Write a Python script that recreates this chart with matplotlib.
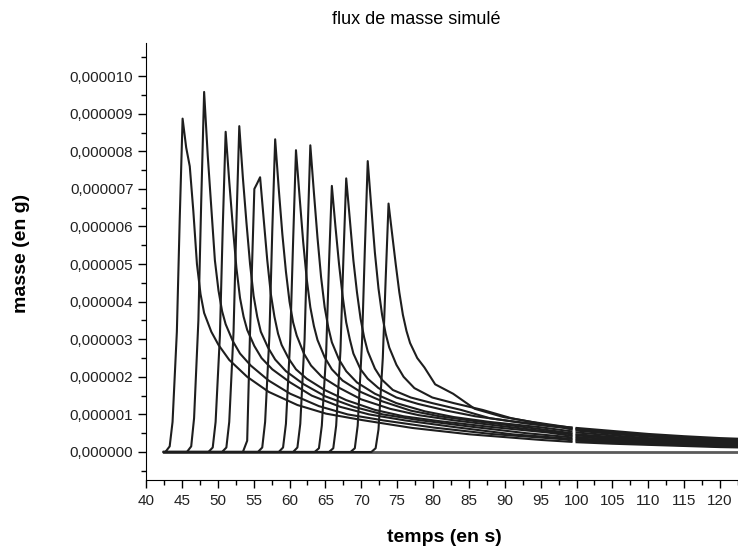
import numpy as np
import matplotlib
matplotlib.use("Agg")
import matplotlib.pyplot as plt
from matplotlib.ticker import MultipleLocator, FuncFormatter

plt.rcParams['font.family'] = ['Liberation Sans', 'DejaVu Sans']

# temps du pic (s) pour chaque simulation
peak_t = [45.1, 48.1, 51.1, 53.0, 55.9, 58.0, 60.9, 62.9, 65.9, 67.9, 70.9, 73.8]

# montee : decalages par rapport au pic et valeurs (1e-6 g)
rise_dt = [-2.4, -1.8, -1.4, -0.8, -0.4, 0.0]
rise_vals = [
    [0, 0.15, 0.8, 3.2, 6.2, 8.87],
    [0, 0.15, 0.9, 3.5, 6.7, 9.58],
    [0, 0.12, 0.8, 3.1, 6.0, 8.52],
    [0, 0.12, 0.8, 3.2, 6.1, 8.67],
    [0, 0.3, 3.2, 7.0, 7.15, 7.31],
    [0, 0.12, 0.8, 3.1, 5.9, 8.32],
    [0, 0.12, 0.75, 3.0, 5.6, 8.03],
    [0, 0.12, 0.75, 3.0, 5.7, 8.16],
    [0, 0.1, 0.7, 2.6, 5.0, 7.08],
    [0, 0.1, 0.7, 2.7, 5.1, 7.28],
    [0, 0.1, 0.7, 2.9, 5.4, 7.74],
    [0, 0.1, 0.6, 2.5, 4.6, 6.61],
]

# descente : decalages apres le pic et valeurs (1e-6 g)
dec_dt = [0.5, 1.0, 1.5, 2.0, 2.5, 3.0, 4.0, 5.0, 6.5, 9.0, 12.0, 16.0, 20.0, 25.0, 32.0, 40.0, 50.0]
dec_vals = [
    [8.1, 7.6, 6.4, 5.0, 4.2, 3.7, 3.2, 2.85, 2.45, 2.0, 1.6, 1.25, 1.02, 0.85, 0.64, 0.47, 0.32],
    [7.9, 6.5, 5.1, 4.3, 3.75, 3.4, 2.95, 2.62, 2.3, 1.9, 1.55, 1.22, 1.0, 0.84, 0.65, 0.48, 0.34],
    [7.2, 6.0, 4.9, 4.1, 3.6, 3.25, 2.82, 2.5, 2.2, 1.85, 1.5, 1.2, 1.0, 0.84, 0.66, 0.47],
    [7.3, 6.1, 5.0, 4.15, 3.6, 3.2, 2.78, 2.46, 2.15, 1.8, 1.48, 1.2, 1.0, 0.85, 0.68, 0.5],
    [6.2, 5.1, 4.2, 3.6, 3.15, 2.85, 2.48, 2.2, 1.95, 1.65, 1.38, 1.12, 0.95, 0.82, 0.67, 0.52],
    [7.0, 5.8, 4.8, 4.0, 3.45, 3.1, 2.62, 2.3, 2.0, 1.7, 1.4, 1.15, 0.98, 0.84, 0.68, 0.5],
    [6.8, 5.6, 4.6, 3.85, 3.35, 2.98, 2.52, 2.2, 1.9, 1.6, 1.35, 1.1, 0.95, 0.82, 0.66],
    [6.9, 5.7, 4.65, 3.85, 3.32, 2.92, 2.46, 2.15, 1.85, 1.55, 1.3, 1.08, 0.93, 0.8, 0.66],
    [6.0, 5.0, 4.15, 3.45, 3.0, 2.62, 2.2, 1.95, 1.7, 1.45, 1.28, 1.1, 0.95, 0.82, 0.66],
    [6.2, 5.1, 4.25, 3.55, 3.05, 2.68, 2.22, 1.92, 1.65, 1.45, 1.3, 1.12, 0.9, 0.76],
    [6.5, 5.3, 4.35, 3.65, 3.15, 2.78, 2.32, 2.0, 1.7, 1.45, 1.3, 1.12, 0.9, 0.72],
    [5.8, 5.0, 4.25, 3.65, 3.22, 2.9, 2.5, 2.25, 1.8, 1.55, 1.15, 0.93, 0.8, 0.66],
]

# fin des courbes (second fichier apres 100 s)
tail_t = [99.3, 100.0, 105.0, 110.0, 115.0, 120.0, 123.0]
tail_vals = [
    [0.27, 0.26, 0.22, 0.19, 0.16, 0.13, 0.12],
    [0.31, 0.30, 0.25, 0.21, 0.18, 0.15, 0.13],
    [0.35, 0.33, 0.28, 0.24, 0.20, 0.17, 0.15],
    [0.39, 0.36, 0.31, 0.26, 0.22, 0.19, 0.17],
    [0.43, 0.40, 0.34, 0.29, 0.25, 0.21, 0.19],
    [0.47, 0.44, 0.37, 0.31, 0.27, 0.23, 0.21],
    [0.50, 0.47, 0.40, 0.34, 0.29, 0.25, 0.23],
    [0.55, 0.52, 0.44, 0.37, 0.32, 0.27, 0.25],
    [0.60, 0.57, 0.48, 0.41, 0.35, 0.30, 0.28],
    [0.62, 0.60, 0.50, 0.43, 0.37, 0.32, 0.29],
    [0.65, 0.62, 0.53, 0.45, 0.39, 0.34, 0.31],
    [0.65, 0.64, 0.56, 0.48, 0.42, 0.37, 0.35],
]

t_start = 42.5
t_end = 123.0

fig = plt.figure(figsize=(7.38, 5.49), dpi=100)
ax = fig.add_axes([146/738, 1-480/549, 1-146/738, (480-42.7)/549])

# ligne de base a zero
ax.plot([t_start, t_end], [0, 0], color='#5a5a5a', lw=2.0, zorder=1)

for i in range(len(peak_t)):
    tp = peak_t[i]
    t = [t_start] + [tp + d for d in rise_dt] + [tp + d for d, v in zip(dec_dt, dec_vals[i])]
    y = [0] + rise_vals[i] + dec_vals[i]
    # trou entre les deux fichiers vers 99.5 s
    t = t + [tail_t[0], np.nan] + tail_t[1:]
    y = y + [tail_vals[i][0], np.nan] + tail_vals[i][1:]
    ax.plot(t, np.array(y, dtype=float) * 1e-6, color='#1e1e1e', lw=1.5, zorder=2)

ax.set_xlim(40, 122.5)
ax.set_ylim(-0.745e-6, 10.89e-6)

ax.spines['top'].set_visible(False)
ax.spines['right'].set_visible(False)

ax.xaxis.set_major_locator(MultipleLocator(5))
ax.xaxis.set_minor_locator(MultipleLocator(2.5))
ax.yaxis.set_major_locator(MultipleLocator(1e-6))
ax.yaxis.set_minor_locator(MultipleLocator(0.5e-6))
ax.yaxis.set_major_formatter(FuncFormatter(lambda v, p: ('%.6f' % (0 if abs(v) < 1e-9 else v)).replace('.', ',')))

ax.tick_params(which='major', direction='out', length=6, width=1, labelsize=11, colors='black', labelcolor='#222222')
ax.tick_params(which='minor', direction='out', length=3.5, width=1)
ax.tick_params(axis='y', pad=3)
ax.tick_params(axis='x', pad=4)

fig.text(416/738, 1-20/549, 'flux de masse simulé', ha='center', va='center', fontsize=13)
fig.text(444/738, 1-537/549, 'temps (en s)', ha='center', va='center', fontsize=14, fontweight='bold')
fig.text(22/738, 1-253/549, 'masse (en g)', ha='center', va='center', fontsize=14, fontweight='bold', rotation=90)

fig.savefig('out.png', dpi=100)
